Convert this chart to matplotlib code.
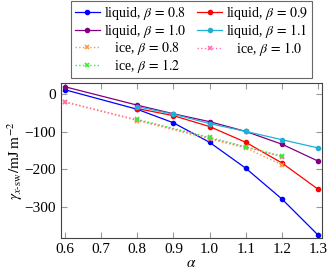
import matplotlib
matplotlib.use("Agg")
from matplotlib import pyplot as plt

plt.rcParams['font.family'] = ['Liberation Serif', 'DejaVu Serif']
plt.rcParams['mathtext.fontset'] = 'stix'

alpha_liq = [0.6, 0.8, 0.9, 1.0, 1.1, 1.2, 1.3]
alpha_liq2 = [0.8, 0.9, 1.0, 1.1, 1.2, 1.3]
liq_08 = [12, -40, -76, -128, -197, -279, -375]
liq_09 = [-38, -57, -86, -128, -183, -253]
liq_10 = [20, -29, -52, -73, -99, -133, -178]
liq_11 = [-33, -53, -78, -99, -121, -143]

alpha_ice = [0.6, 0.8, 1.0, 1.1, 1.2]
alpha_ice2 = [0.8, 1.0, 1.1, 1.2]
ice_08 = [-21, -70, -119, -143, -188]
ice_10 = [-20, -68, -117, -141, -166]
ice_12 = [-67, -115, -140, -165]

fig = plt.figure(figsize=(3.31, 2.73), dpi=100)
ax = fig.add_axes([0.184, 0.128, 0.789, 0.568])

ax.plot(alpha_liq, liq_08, color='#0000ff', marker='o', ms=3, lw=0.9, label=r'liquid, $\beta\,=\,0.8$')
ax.plot(alpha_liq2, liq_09, color='#ff0000', marker='o', ms=3, lw=0.9, label=r'liquid, $\beta\,=\,0.9$')
ax.plot(alpha_liq, liq_10, color='#800080', marker='o', ms=3, lw=0.9, label=r'liquid, $\beta\,=\,1.0$')
ax.plot(alpha_liq2, liq_11, color='#1fb0d6', marker='o', ms=3, lw=0.9, label=r'liquid, $\beta\,=\,1.1$')
ax.plot(alpha_ice, ice_08, color='#ff9a3c', marker='x', ms=3.5, mew=1.2, lw=1, ls=':', label=r'   ice, $\beta\,=\,0.8$')
ax.plot(alpha_ice, ice_10, color='#ff6fb0', marker='x', ms=3.5, mew=1.2, lw=1, ls=':', label=r'   ice, $\beta\,=\,1.0$')
ax.plot(alpha_ice2, ice_12, color='#33ee33', marker='x', ms=3.5, mew=1.2, lw=1, ls=':', label=r'   ice, $\beta\,=\,1.2$')

ax.set_xlim(0.589, 1.311)
ax.set_ylim(-383, 30)
ax.set_xticks([0.6, 0.7, 0.8, 0.9, 1.0, 1.1, 1.2, 1.3])
ax.set_yticks([0, -100, -200, -300])
ax.set_yticklabels(['0', '\u2212100', '\u2212200', '\u2212300'])
ax.tick_params(direction='in', top=True, right=True, labelsize=11, length=4, color='#999999')
for s in ax.spines.values():
    s.set_color('#444444')
    s.set_linewidth(0.8)
ax.set_xlabel(r'$\alpha$', fontsize=11, labelpad=1)
ax.set_ylabel(r'$\gamma_{x\text{-sw}}/\mathrm{mJ\;m^{-2}}$', fontsize=11, labelpad=0)

# reorder so the legend fills row by row like the original
handles, labels = ax.get_legend_handles_labels()
order = [0, 2, 4, 6, 1, 3, 5]
leg = fig.legend([handles[i] for i in order], [labels[i] for i in order],
                 loc='upper center', bbox_to_anchor=(0.579, 1.0), ncol=2, fontsize=10,
                 frameon=True, fancybox=False, edgecolor='#444444', handlelength=1.8,
                 columnspacing=0.8, handletextpad=0.3, labelspacing=0.0, borderpad=0.25,
                 borderaxespad=0.1)
leg.get_frame().set_linewidth(0.8)

fig.savefig('out.png', dpi=100)
